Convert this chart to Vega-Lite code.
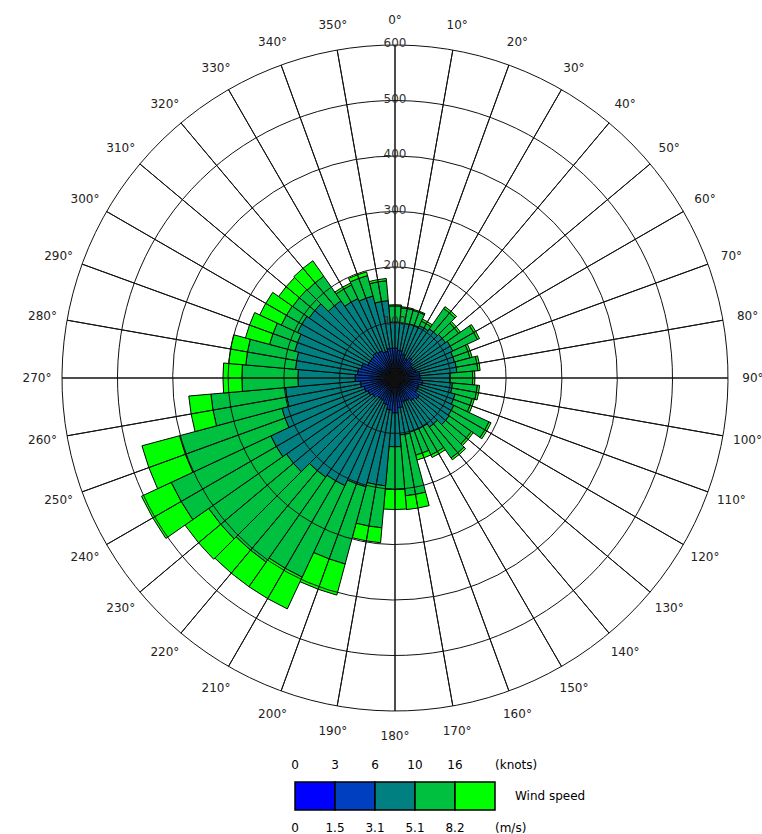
{
  "$schema": "https://vega.github.io/schema/vega-lite/v6.json",
  "padding": {"left": 14, "top": 0, "right": 0, "bottom": 0},
  "autosize": {"type": "pad"},
  "background": "white",
  "config": {"view": {"stroke": null}, "text": {"font": "DejaVu Sans", "fontSize": 12}},
  "spacing": 26,
  "center": true,
  "bounds": "flush",
  "datasets": {
    "wind": [
      {"dir":0,"cls":1,"n":16},{"dir":0,"cls":2,"n":38},{"dir":0,"cls":3,"n":47},{"dir":0,"cls":4,"n":29},{"dir":0,"cls":5,"n":2},
      {"dir":10,"cls":1,"n":16},{"dir":10,"cls":2,"n":34},{"dir":10,"cls":3,"n":50},{"dir":10,"cls":4,"n":27},{"dir":10,"cls":5,"n":2},
      {"dir":20,"cls":1,"n":14},{"dir":20,"cls":2,"n":31},{"dir":20,"cls":3,"n":56},{"dir":20,"cls":4,"n":25},{"dir":20,"cls":5,"n":2},
      {"dir":30,"cls":1,"n":14},{"dir":30,"cls":2,"n":25},{"dir":30,"cls":3,"n":65},{"dir":30,"cls":4,"n":9},{"dir":30,"cls":5,"n":4},
      {"dir":40,"cls":1,"n":14},{"dir":40,"cls":2,"n":31},{"dir":40,"cls":3,"n":63},{"dir":40,"cls":4,"n":45},{"dir":40,"cls":5,"n":4},
      {"dir":50,"cls":1,"n":14},{"dir":50,"cls":2,"n":25},{"dir":50,"cls":3,"n":72},{"dir":50,"cls":4,"n":29},{"dir":50,"cls":5,"n":4},
      {"dir":60,"cls":1,"n":14},{"dir":60,"cls":2,"n":22},{"dir":60,"cls":3,"n":79},{"dir":60,"cls":4,"n":49},{"dir":60,"cls":5,"n":4},
      {"dir":70,"cls":1,"n":14},{"dir":70,"cls":2,"n":25},{"dir":70,"cls":3,"n":72},{"dir":70,"cls":4,"n":29},{"dir":70,"cls":5,"n":4},
      {"dir":80,"cls":1,"n":14},{"dir":80,"cls":2,"n":31},{"dir":80,"cls":3,"n":67},{"dir":80,"cls":4,"n":38},{"dir":80,"cls":5,"n":4},
      {"dir":90,"cls":1,"n":16},{"dir":90,"cls":2,"n":29},{"dir":90,"cls":3,"n":54},{"dir":90,"cls":4,"n":41},{"dir":90,"cls":5,"n":4},
      {"dir":100,"cls":1,"n":16},{"dir":100,"cls":2,"n":34},{"dir":100,"cls":3,"n":54},{"dir":100,"cls":4,"n":45},{"dir":100,"cls":5,"n":4},
      {"dir":110,"cls":1,"n":16},{"dir":110,"cls":2,"n":29},{"dir":110,"cls":3,"n":67},{"dir":110,"cls":4,"n":32},{"dir":110,"cls":5,"n":4},
      {"dir":120,"cls":1,"n":16},{"dir":120,"cls":2,"n":29},{"dir":120,"cls":3,"n":72},{"dir":120,"cls":4,"n":70},{"dir":120,"cls":5,"n":4},
      {"dir":130,"cls":1,"n":16},{"dir":130,"cls":2,"n":38},{"dir":130,"cls":3,"n":65},{"dir":130,"cls":4,"n":49},{"dir":130,"cls":5,"n":4},
      {"dir":140,"cls":1,"n":16},{"dir":140,"cls":2,"n":34},{"dir":140,"cls":3,"n":58},{"dir":140,"cls":4,"n":68},{"dir":140,"cls":5,"n":4},
      {"dir":150,"cls":1,"n":16},{"dir":150,"cls":2,"n":29},{"dir":150,"cls":3,"n":56},{"dir":150,"cls":4,"n":52},{"dir":150,"cls":5,"n":5},
      {"dir":160,"cls":1,"n":16},{"dir":160,"cls":2,"n":29},{"dir":160,"cls":3,"n":56},{"dir":160,"cls":4,"n":43},{"dir":160,"cls":5,"n":9},
      {"dir":170,"cls":1,"n":18},{"dir":170,"cls":2,"n":36},{"dir":170,"cls":3,"n":49},{"dir":170,"cls":4,"n":110},{"dir":170,"cls":5,"n":25},
      {"dir":180,"cls":1,"n":18},{"dir":180,"cls":2,"n":45},{"dir":180,"cls":3,"n":61},{"dir":180,"cls":4,"n":77},{"dir":180,"cls":5,"n":36},
      {"dir":190,"cls":1,"n":18},{"dir":190,"cls":2,"n":40},{"dir":190,"cls":3,"n":137},{"dir":190,"cls":4,"n":76},{"dir":190,"cls":5,"n":27},
      {"dir":200,"cls":1,"n":18},{"dir":200,"cls":2,"n":32},{"dir":200,"cls":3,"n":153},{"dir":200,"cls":4,"n":144},{"dir":200,"cls":5,"n":58},
      {"dir":210,"cls":1,"n":16},{"dir":210,"cls":2,"n":29},{"dir":210,"cls":3,"n":169},{"dir":210,"cls":4,"n":182},{"dir":210,"cls":5,"n":63},
      {"dir":220,"cls":1,"n":16},{"dir":220,"cls":2,"n":29},{"dir":220,"cls":3,"n":173},{"dir":220,"cls":4,"n":187},{"dir":220,"cls":5,"n":54},
      {"dir":230,"cls":1,"n":16},{"dir":230,"cls":2,"n":34},{"dir":230,"cls":3,"n":189},{"dir":230,"cls":4,"n":171},{"dir":230,"cls":5,"n":52},
      {"dir":240,"cls":1,"n":18},{"dir":240,"cls":2,"n":36},{"dir":240,"cls":3,"n":193},{"dir":240,"cls":4,"n":198},{"dir":240,"cls":5,"n":59},
      {"dir":250,"cls":1,"n":18},{"dir":250,"cls":2,"n":40},{"dir":250,"cls":3,"n":153},{"dir":250,"cls":4,"n":191},{"dir":250,"cls":5,"n":70},
      {"dir":260,"cls":1,"n":18},{"dir":260,"cls":2,"n":45},{"dir":260,"cls":3,"n":135},{"dir":260,"cls":4,"n":135},{"dir":260,"cls":5,"n":40},
      {"dir":270,"cls":1,"n":18},{"dir":270,"cls":2,"n":54},{"dir":270,"cls":3,"n":103},{"dir":270,"cls":4,"n":101},{"dir":270,"cls":5,"n":34},
      {"dir":280,"cls":1,"n":18},{"dir":280,"cls":2,"n":50},{"dir":280,"cls":3,"n":112},{"dir":280,"cls":4,"n":90},{"dir":280,"cls":5,"n":31},
      {"dir":290,"cls":1,"n":18},{"dir":290,"cls":2,"n":45},{"dir":290,"cls":3,"n":124},{"dir":290,"cls":4,"n":47},{"dir":290,"cls":5,"n":45},
      {"dir":300,"cls":1,"n":16},{"dir":300,"cls":2,"n":38},{"dir":300,"cls":3,"n":140},{"dir":300,"cls":4,"n":32},{"dir":300,"cls":5,"n":43},
      {"dir":310,"cls":1,"n":16},{"dir":310,"cls":2,"n":38},{"dir":310,"cls":3,"n":135},{"dir":310,"cls":4,"n":36},{"dir":310,"cls":5,"n":31},
      {"dir":320,"cls":1,"n":16},{"dir":320,"cls":2,"n":41},{"dir":320,"cls":3,"n":113},{"dir":320,"cls":4,"n":54},{"dir":320,"cls":5,"n":34},
      {"dir":330,"cls":1,"n":16},{"dir":330,"cls":2,"n":38},{"dir":330,"cls":3,"n":104},{"dir":330,"cls":4,"n":27},{"dir":330,"cls":5,"n":4},
      {"dir":340,"cls":1,"n":16},{"dir":340,"cls":2,"n":34},{"dir":340,"cls":3,"n":103},{"dir":340,"cls":4,"n":38},{"dir":340,"cls":5,"n":7},
      {"dir":350,"cls":1,"n":16},{"dir":350,"cls":2,"n":38},{"dir":350,"cls":3,"n":86},{"dir":350,"cls":4,"n":36},{"dir":350,"cls":5,"n":4}
    ],
    "angles": [
      {"a":0,"lab":"0°"},{"a":10,"lab":"10°"},{"a":20,"lab":"20°"},{"a":30,"lab":"30°"},{"a":40,"lab":"40°"},{"a":50,"lab":"50°"},
      {"a":60,"lab":"60°"},{"a":70,"lab":"70°"},{"a":80,"lab":"80°"},{"a":90,"lab":"90°"},{"a":100,"lab":"100°"},{"a":110,"lab":"110°"},
      {"a":120,"lab":"120°"},{"a":130,"lab":"130°"},{"a":140,"lab":"140°"},{"a":150,"lab":"150°"},{"a":160,"lab":"160°"},{"a":170,"lab":"170°"},
      {"a":180,"lab":"180°"},{"a":190,"lab":"190°"},{"a":200,"lab":"200°"},{"a":210,"lab":"210°"},{"a":220,"lab":"220°"},{"a":230,"lab":"230°"},
      {"a":240,"lab":"240°"},{"a":250,"lab":"250°"},{"a":260,"lab":"260°"},{"a":270,"lab":"270°"},{"a":280,"lab":"280°"},{"a":290,"lab":"290°"},
      {"a":300,"lab":"300°"},{"a":310,"lab":"310°"},{"a":320,"lab":"320°"},{"a":330,"lab":"330°"},{"a":340,"lab":"340°"},{"a":350,"lab":"350°"}
    ],
    "rings": [{"r":100},{"r":200},{"r":300},{"r":400},{"r":500},{"r":600}],
    "legend": [
      {"k":1,"kn":"0","ms":"0"},{"k":2,"kn":"3","ms":"1.5"},{"k":3,"kn":"6","ms":"3.1"},{"k":4,"kn":"10","ms":"5.1"},{"k":5,"kn":"16","ms":"8.2"}
    ],
    "one": [{"u":1}]
  },
  "vconcat": [
    {
      "width": 762,
      "height": 756,
      "layer": [
        {
          "data": {"name": "wind"},
          "transform": [
            {"bin": {"step": 10, "extent": [-5, 355], "nice": false}, "field": "dir", "as": ["d0", "d1"]},
            {"stack": "n", "groupby": ["dir"], "sort": [{"field": "cls", "order": "ascending"}], "as": ["r0", "r1"]}
          ],
          "mark": {"type": "arc", "stroke": "#000000", "strokeWidth": 1},
          "encoding": {
            "theta": {"field": "d0", "type": "quantitative", "stack": null, "scale": {"type": "linear", "domain": [-5, 355], "range": [-0.0872665, 6.1959188], "nice": false, "zero": false}},
            "theta2": {"field": "d1"},
            "radius": {"field": "r1", "type": "quantitative", "stack": null, "scale": {"type": "linear", "domain": [0, 600], "range": [0, 333], "nice": false, "zero": true}},
            "radius2": {"field": "r0"},
            "color": {"field": "cls", "type": "ordinal", "scale": {"domain": [1, 2, 3, 4, 5], "range": ["#0000FF", "#0040C0", "#008080", "#00C040", "#00FF00"]}, "legend": null}
          }
        },
        {
          "data": {"name": "rings"},
          "mark": {"type": "arc", "filled": false, "stroke": "#111111", "strokeWidth": 1},
          "encoding": {
            "theta": {"datum": -5, "type": "quantitative", "stack": null},
            "theta2": {"datum": 356},
            "radius": {"field": "r", "type": "quantitative", "stack": null}
          }
        },
        {
          "data": {"name": "angles"},
          "mark": {"type": "arc", "filled": false, "stroke": "#111111", "strokeWidth": 1},
          "encoding": {
            "theta": {"field": "a", "type": "quantitative", "stack": null},
            "theta2": {"field": "a"},
            "radius": {"datum": 600, "type": "quantitative", "stack": null},
            "radius2": {"datum": 0}
          }
        },
        {
          "data": {"name": "angles"},
          "mark": {"type": "text", "color": "#222222", "align": "center", "baseline": "middle"},
          "encoding": {
            "theta": {"field": "a", "type": "quantitative", "stack": null},
            "radius": {"datum": 645, "type": "quantitative", "stack": null},
            "text": {"field": "lab"}
          }
        },
        {
          "data": {"name": "rings"},
          "mark": {"type": "text", "color": "#333333", "align": "center", "baseline": "middle", "dy": -2},
          "encoding": {
            "theta": {"datum": 0, "type": "quantitative", "stack": null},
            "radius": {"field": "r", "type": "quantitative", "stack": null},
            "text": {"field": "r", "type": "quantitative"}
          }
        }
      ]
    },
    {
      "width": 200,
      "height": 28,
      "layer": [
        {
          "data": {"name": "legend"},
          "mark": {"type": "rect", "stroke": "#000000", "strokeWidth": 1.5},
          "encoding": {
            "x": {"field": "k", "type": "ordinal", "scale": {"paddingInner": 0, "paddingOuter": 0}, "axis": null},
            "color": {"field": "k", "type": "ordinal", "scale": {"domain": [1, 2, 3, 4, 5], "range": ["#0000FF", "#0040C0", "#008080", "#00C040", "#00FF00"]}, "legend": null}
          }
        },
        {
          "data": {"name": "legend"},
          "mark": {"type": "text", "dy": -31, "color": "#000000"},
          "encoding": {
            "x": {"field": "k", "type": "ordinal", "bandPosition": 0},
            "text": {"field": "kn"}
          }
        },
        {
          "data": {"name": "legend"},
          "mark": {"type": "text", "dy": 32, "color": "#000000"},
          "encoding": {
            "x": {"field": "k", "type": "ordinal", "bandPosition": 0},
            "text": {"field": "ms"}
          }
        },
        {
          "data": {"name": "one"},
          "mark": {"type": "text", "text": "(knots)", "dy": -31, "align": "left", "color": "#000000"},
          "encoding": {"x": {"value": "width"}}
        },
        {
          "data": {"name": "one"},
          "mark": {"type": "text", "text": "(m/s)", "dy": 32, "align": "left", "color": "#000000"},
          "encoding": {"x": {"value": "width"}}
        },
        {
          "data": {"name": "one"},
          "mark": {"type": "text", "text": "Wind speed", "dx": 20, "align": "left", "color": "#000000"},
          "encoding": {"x": {"value": "width"}}
        }
      ]
    }
  ]
}
